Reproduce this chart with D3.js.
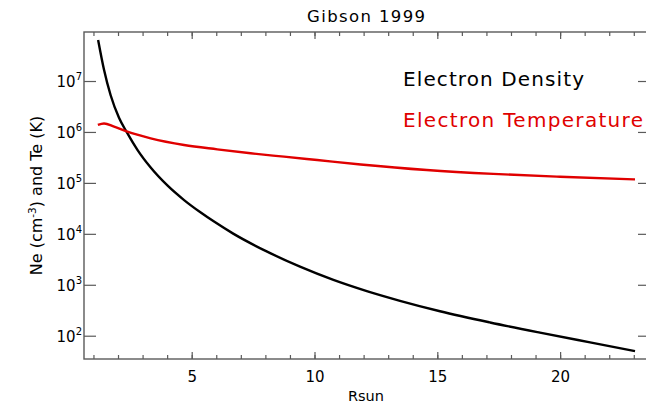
<!DOCTYPE html>
<html>
<head>
<meta charset="utf-8">
<script src="https://cdn.jsdelivr.net/npm/d3@7"></script>
<style>
  html, body { margin: 0; padding: 0; background: #fff; }
  svg { display: block; font-family: "DejaVu Sans", "Liberation Sans", sans-serif; }
</style>
</head>
<body>
<svg id="chart" width="646" height="403"></svg>
<script>
// Electron density profile (cm^-3) versus heliocentric distance (Rsun)
const densityR = [1.19, 1.43, 1.70, 2.04, 2.35, 2.79, 3.33, 4.01, 4.69, 5.34, 5.91, 6.69, 8.05, 9.41, 10.77, 12.13, 13.48, 15.11, 17.15, 19.18, 21.22, 23.05];
const densityNe = [6.4e7, 1.66e7, 5.25e6, 1.9e6, 1.0e6, 4.45e5, 2.0e5, 8.9e4, 4.6e4, 2.68e4, 1.74e4, 1.01e4, 4520, 2265, 1245, 750, 484, 302, 182, 115, 74, 50];

// Electron temperature profile (K) versus heliocentric distance (Rsun)
const tempR = [1.18, 1.43, 1.84, 2.38, 3.33, 4.69, 6.04, 7.40, 8.76, 10.11, 11.88, 14.57, 17.28, 20.0, 23.05];
const tempTe = [1.37e6, 1.47e6, 1.27e6, 1.01e6, 7.5e5, 5.55e5, 4.56e5, 3.81e5, 3.27e5, 2.81e5, 2.3e5, 1.79e5, 1.50e5, 1.32e5, 1.17e5];

// Axis ticks
const xMajorTicks = [5, 10, 15, 20];
const xMinorTicks = d3.range(1, 24);
const yTickExponents = [2, 3, 4, 5, 6, 7];

const seriesNames = ["Electron Density", "Electron Temperature"];
const seriesColors = ["#000000", "#e00000"];

const svg = d3.select("#chart");
const plotL = 84, plotR = 650, plotT = 32, plotB = 359;

const x = d3.scaleLinear().domain([0.615, 23.66]).range([plotL, plotR]);
const y = d3.scaleLog().domain([Math.pow(10, 1.543), Math.pow(10, 7.962)]).range([plotB, plotT]);

const axisColor = "#5a5a5a";

// Frame
svg.append("rect")
  .attr("x", plotL).attr("y", plotT)
  .attr("width", plotR - plotL).attr("height", plotB - plotT)
  .attr("fill", "none").attr("stroke", axisColor).attr("stroke-width", 1.4);

// Bottom and top axes (ticks pointing inward)
const xBottom = d3.axisBottom(x).tickValues(xMinorTicks).tickSizeInner(-4).tickSizeOuter(0).tickFormat("");
const xBottomMajor = d3.axisBottom(x).tickValues(xMajorTicks).tickSizeInner(-7).tickSizeOuter(0).tickPadding(12)
  .tickFormat(d3.format("d"));
const xTop = d3.axisTop(x).tickValues(xMinorTicks).tickSizeInner(-4).tickSizeOuter(0).tickFormat("");
const xTopMajor = d3.axisTop(x).tickValues(xMajorTicks).tickSizeInner(-7).tickSizeOuter(0).tickFormat("");

function styleAxis(g) {
  g.select(".domain").remove();
  g.selectAll(".tick line").attr("stroke", axisColor).attr("stroke-width", 1.2);
  g.selectAll(".tick text").attr("fill", "#000").attr("font-size", 15)
    .attr("font-family", "DejaVu Sans, sans-serif");
}

svg.append("g").attr("transform", `translate(0,${plotB})`).call(xBottom).call(styleAxis);
svg.append("g").attr("transform", `translate(0,${plotB})`).call(xBottomMajor).call(styleAxis);
svg.append("g").attr("transform", `translate(0,${plotT})`).call(xTop).call(styleAxis);
svg.append("g").attr("transform", `translate(0,${plotT})`).call(xTopMajor).call(styleAxis);

// Left and right log axes (major ticks only)
const yVals = yTickExponents.map(e => Math.pow(10, e));
const yLeft = d3.axisLeft(y).tickValues(yVals).tickSizeInner(-12).tickSizeOuter(0).tickFormat("");
const yRight = d3.axisRight(y).tickValues(yVals).tickSizeInner(-12).tickSizeOuter(0).tickFormat("");
svg.append("g").attr("transform", `translate(${plotL},0)`).call(yLeft).call(styleAxis);
svg.append("g").attr("transform", `translate(${plotR},0)`).call(yRight).call(styleAxis);

// Y tick labels as 10^n
const yLabels = svg.append("g");
yTickExponents.forEach(e => {
  const t = yLabels.append("text")
    .attr("x", 82).attr("y", y(Math.pow(10, e)) + 6)
    .attr("text-anchor", "end").attr("font-size", 15).attr("fill", "#000");
  t.append("tspan").text("10");
  t.append("tspan").attr("font-size", 10).attr("dy", -7).text(e);
});

// Curves
const line = d3.line().x(d => x(d[0])).y(d => y(d[1])).curve(d3.curveMonotoneX);

svg.append("path")
  .datum(d3.zip(densityR, densityNe))
  .attr("d", line).attr("fill", "none")
  .attr("stroke", seriesColors[0]).attr("stroke-width", 2.4);

svg.append("path")
  .datum(d3.zip(tempR, tempTe))
  .attr("d", line).attr("fill", "none")
  .attr("stroke", seriesColors[1]).attr("stroke-width", 2.4);

// Title
svg.append("text")
  .attr("x", 366).attr("y", 22)
  .attr("text-anchor", "middle").attr("font-size", 16.5).attr("fill", "#000")
  .attr("textLength", 118).attr("lengthAdjust", "spacing")
  .text("Gibson 1999");

// Axis titles
svg.append("text")
  .attr("x", 366).attr("y", 401)
  .attr("text-anchor", "middle").attr("font-size", 14.5).attr("fill", "#000")
  .text("Rsun");

const yt = svg.append("text")
  .attr("transform", "translate(42,195.5) rotate(-90)")
  .attr("text-anchor", "middle").attr("font-size", 16).attr("fill", "#000");
yt.append("tspan").text("Ne (cm");
yt.append("tspan").attr("font-size", 10.5).attr("dy", -6).text("-3");
yt.append("tspan").attr("dy", 6).text(") and Te (K)");

// Legend
const legendY = [86, 127];
seriesNames.forEach((name, i) => {
  svg.append("text")
    .attr("x", 403).attr("y", legendY[i])
    .attr("font-size", 20).attr("fill", seriesColors[i])
    .attr("textLength", i === 0 ? 181 : 240)
    .attr("lengthAdjust", "spacing")
    .text(name);
});
</script>
</body>
</html>
